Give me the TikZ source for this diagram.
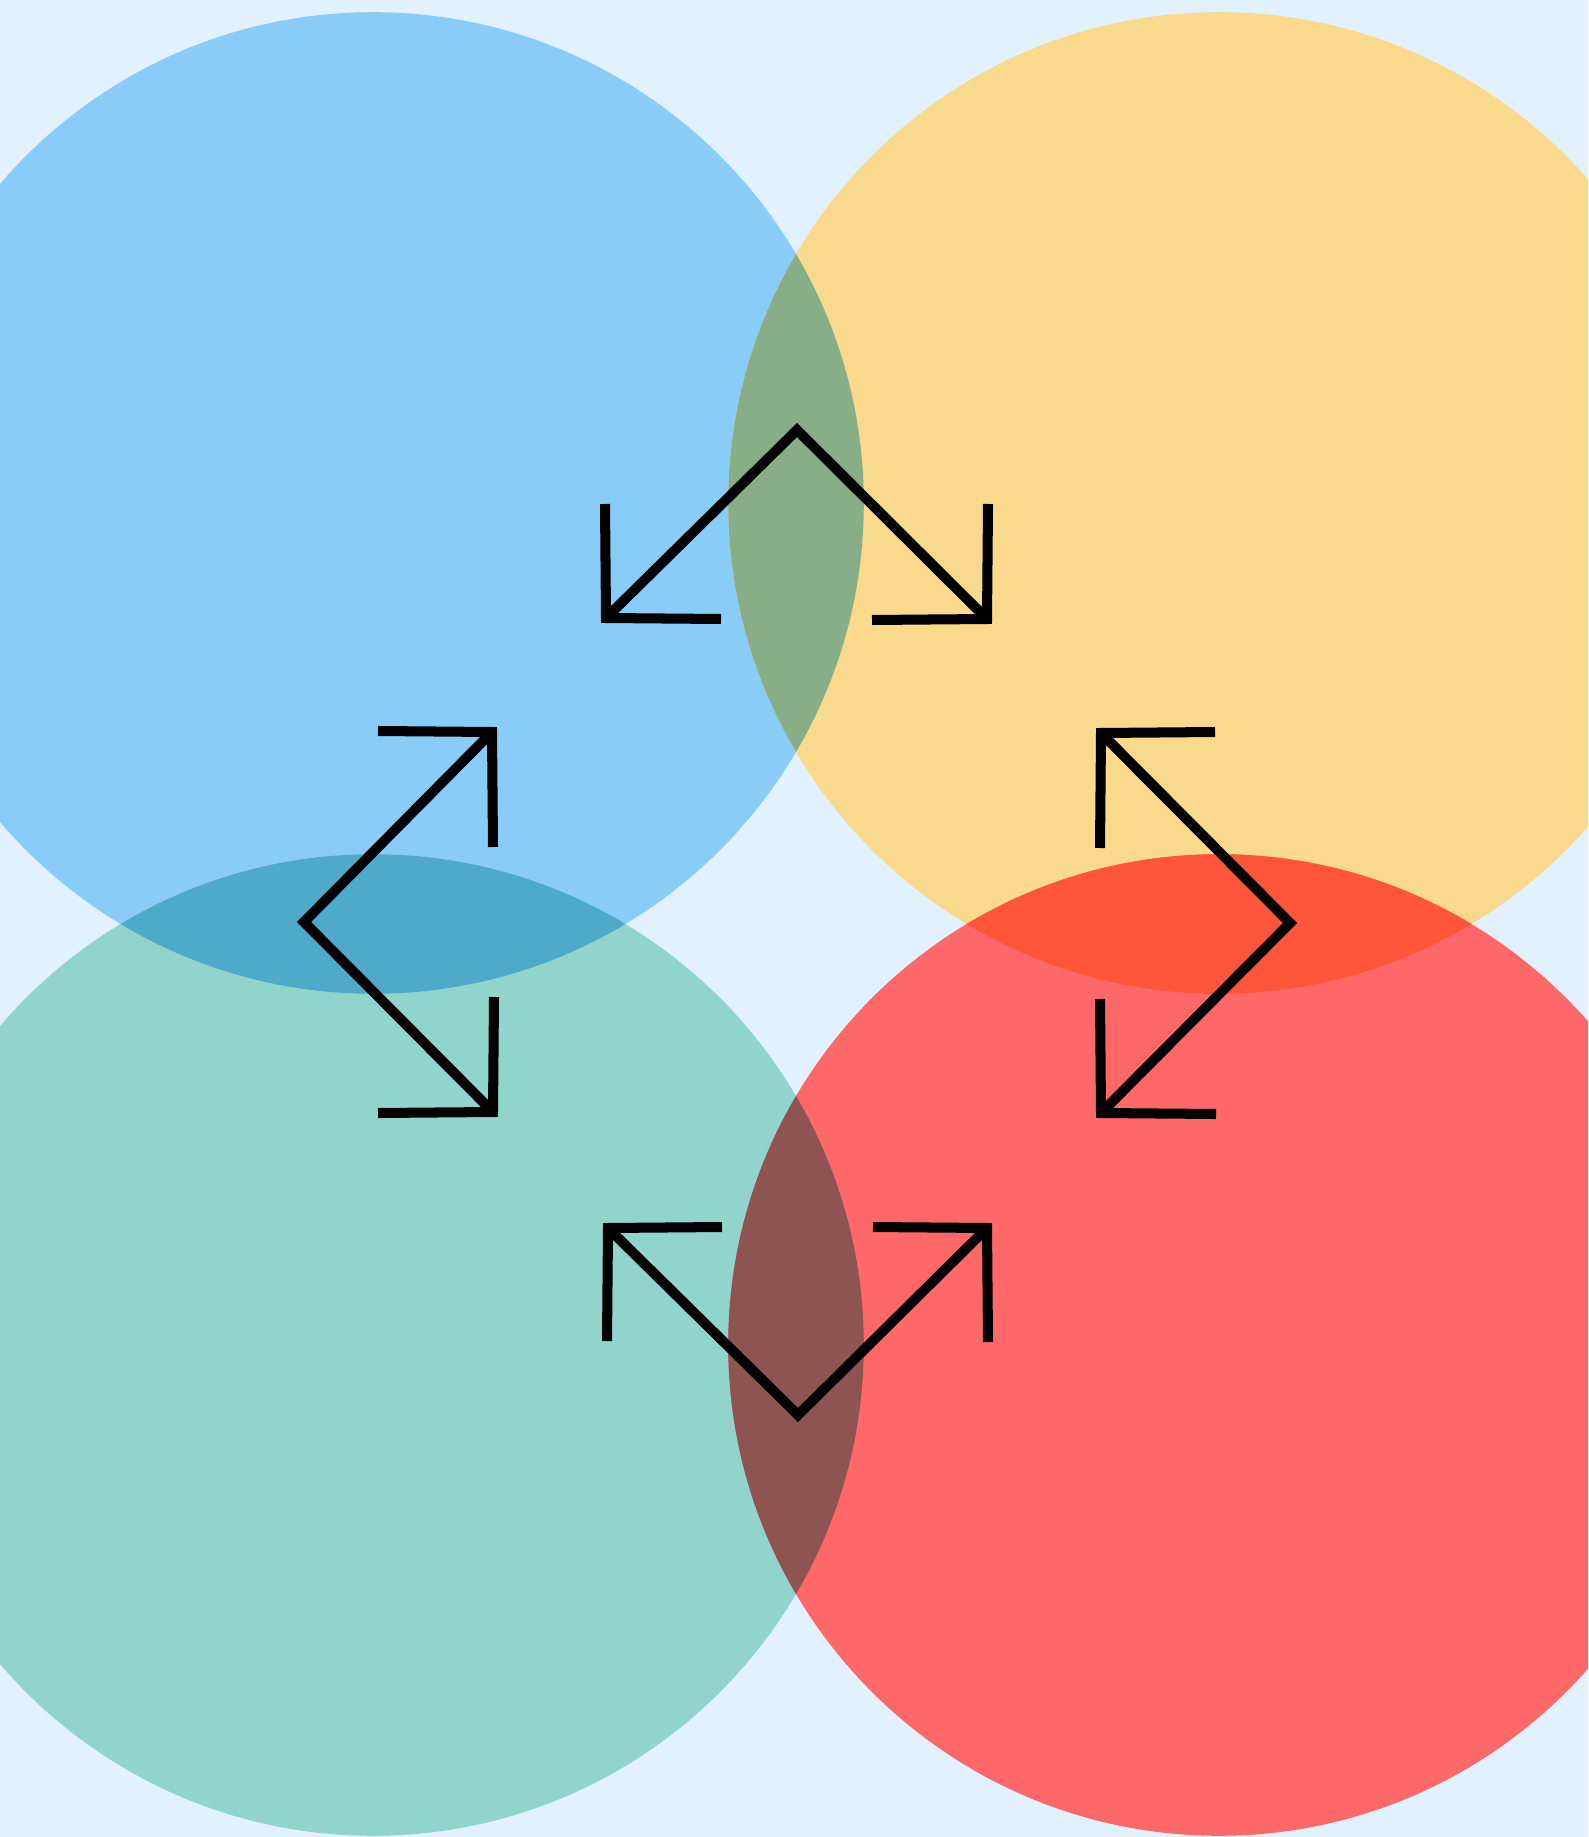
\documentclass[tikz,border=0pt]{standalone}
\usepackage{tikz}
\usetikzlibrary{calc}
\definecolor{bgclr}{HTML}{E1F1FD}
\definecolor{blueclr}{HTML}{8ACCF8}
\definecolor{yellowclr}{HTML}{F9D98B}
\definecolor{tealclr}{HTML}{91D4CC}
\definecolor{redclr}{HTML}{FF6868}
\definecolor{byclr}{HTML}{88AE87}
\definecolor{btclr}{HTML}{4EAAC8}
\definecolor{yrclr}{HTML}{FF5538}
\definecolor{trclr}{HTML}{8E5452}

\begin{document}
\begin{tikzpicture}[x=0.01cm, y=-0.01cm,
    disc/.style={radius=4.905cm},
    arr/.style={draw=black, line width=2.85pt, line join=miter, line cap=butt},
  ]
  \useasboundingbox (0,0) rectangle (1588,1837);
  \clip (0,0) rectangle (1588,1837);
  \fill[bgclr] (0,0) rectangle (1588,1837);

  % circle centres
  \coordinate (tl) at (373,503);
  \coordinate (tr) at (1219,503);
  \coordinate (bl) at (373,1345);
  \coordinate (br) at (1219,1345);

  \fill[blueclr]   (tl) circle[disc];
  \fill[yellowclr] (tr) circle[disc];
  \fill[tealclr]   (bl) circle[disc];
  \fill[redclr]    (br) circle[disc];

  % overlaps
  \begin{scope}
    \clip (tl) circle[disc];
    \fill[byclr] (tr) circle[disc];
    \fill[btclr] (bl) circle[disc];
  \end{scope}
  \begin{scope}
    \clip (br) circle[disc];
    \fill[yrclr] (tr) circle[disc];
    \fill[trclr] (bl) circle[disc];
  \end{scope}

  % apexes and arrow tips
  \coordinate (topA) at (797,430);
  \coordinate (topL) at (606,618);
  \coordinate (topR) at (987,619);
  \coordinate (lftA) at (304,922);
  \coordinate (lftT) at (492,732);
  \coordinate (lftB) at (493,1112);
  \coordinate (rgtA) at (1290,923);
  \coordinate (rgtT) at (1101,733);
  \coordinate (rgtB) at (1101,1113);
  \coordinate (botA) at (798,1415);
  \coordinate (botL) at (608,1228);
  \coordinate (botR) at (987,1228);

  \draw[arr] (topL) -- (topA) -- (topR);
  \draw[arr] (lftT) -- (lftA) -- (lftB);
  \draw[arr] (rgtT) -- (rgtA) -- (rgtB);
  \draw[arr] (botL) -- (botA) -- (botR);

  % open heads
  \draw[arr] ($(topL)+(-1,-114)$) -- (topL) -- ($(topL)+(115,1)$);
  \draw[arr] ($(topR)+(1,-115)$) -- (topR) -- ($(topR)+(-115,1)$);
  \draw[arr] ($(lftT)+(-114,-1)$) -- (lftT) -- ($(lftT)+(1,115)$);
  \draw[arr] ($(lftB)+(-115,1)$) -- (lftB) -- ($(lftB)+(1,-115)$);
  \draw[arr] ($(rgtT)+(114,-1)$) -- (rgtT) -- ($(rgtT)+(-1,115)$);
  \draw[arr] ($(rgtB)+(115,1)$) -- (rgtB) -- ($(rgtB)+(-1,-114)$);
  \draw[arr] ($(botL)+(114,-1)$) -- (botL) -- ($(botL)+(-1,113)$);
  \draw[arr] ($(botR)+(-114,-1)$) -- (botR) -- ($(botR)+(1,114)$);
\end{tikzpicture}
\end{document}
